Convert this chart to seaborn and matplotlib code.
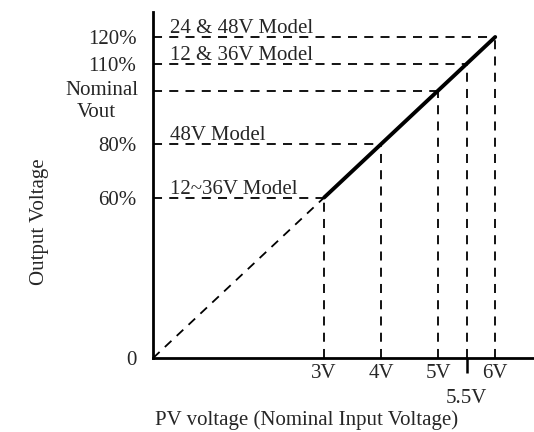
import pandas as pd
import seaborn as sns
import matplotlib.pyplot as plt

# PV input voltage (multiples of nominal) vs output voltage (% of nominal)
pv_volts = [3, 4, 5, 5.5, 6]
vout_pct = [60, 80, 100, 110, 120]
x_tick_labels = ["3V", "4V", "5V", "6V"]
x_tick_values = [3, 4, 5, 6]
y_tick_values = [0, 60, 80, 110, 120]
y_tick_labels = ["0", "60%", "80%", "110%", "120%"]
model_labels = ["12~36V Model", "48V Model", "12 & 36V Model", "24 & 48V Model"]
model_levels = [60, 80, 110, 120]

sns.set_style("white")
plt.rcParams["font.family"] = ["Liberation Serif", "DejaVu Serif"]
plt.rcParams["font.size"] = 15

fig = plt.figure(figsize=(5.34, 4.32), dpi=100)
ax = fig.add_axes([0.2865, 0.171, 0.7135, 0.801])

df = pd.DataFrame({"pv": pv_volts, "vout": vout_pct})
ext = pd.DataFrame({"pv": [0, pv_volts[0]], "vout": [0, vout_pct[0]]})

dash = (0, (5, 4))
# dashed extension to origin
sns.lineplot(data=ext, x="pv", y="vout", ax=ax, color="black", lw=1.3,
             linestyle=dash)
# guide lines
for x, y in zip(pv_volts, vout_pct):
    ax.plot([0, x], [y, y], color="black", lw=1.3, linestyle=dash)
    ax.plot([x, x], [0, y], color="black", lw=1.3, linestyle=dash)
# operating line
sns.lineplot(data=df, x="pv", y="vout", ax=ax, color="black", lw=2.8)

for txt, lvl in zip(model_labels, model_levels):
    ax.text(0.3, lvl - 0.5, txt, ha="left", va="bottom")

ax.set_xlim(0, 6.68)
ax.set_ylim(0, 129.3)
ax.set_xticks(x_tick_values)
ax.set_xticklabels(x_tick_labels)
ax.set_xticks([5.5], minor=True)
ax.set_xticklabels(["5.5V"], minor=True)
ax.tick_params(axis="x", which="major", bottom=True, length=0, pad=4)
ax.tick_params(axis="x", which="minor", bottom=True, length=11, width=1.8,
               pad=11, direction="out", color="black")
ax.set_yticks(y_tick_values)
ax.set_yticklabels(y_tick_labels)
ax.tick_params(axis="y", length=0, pad=12)
ax.text(-0.26, 100, "Nominal", ha="right", va="center")
ax.text(-1.0, 91.6, "Vout", ha="center", va="center")

ax.set_xlabel("PV voltage (Nominal Input Voltage)")
ax.set_ylabel("Output Voltage")
ax.xaxis.set_label_coords(0.404, -0.152)
ax.yaxis.set_label_coords(-0.273, 0.393)

sns.despine(ax=ax)
for s in ["left", "bottom"]:
    ax.spines[s].set_linewidth(2)
    ax.spines[s].set_color("black")

fig.savefig("out.png", dpi=100)
